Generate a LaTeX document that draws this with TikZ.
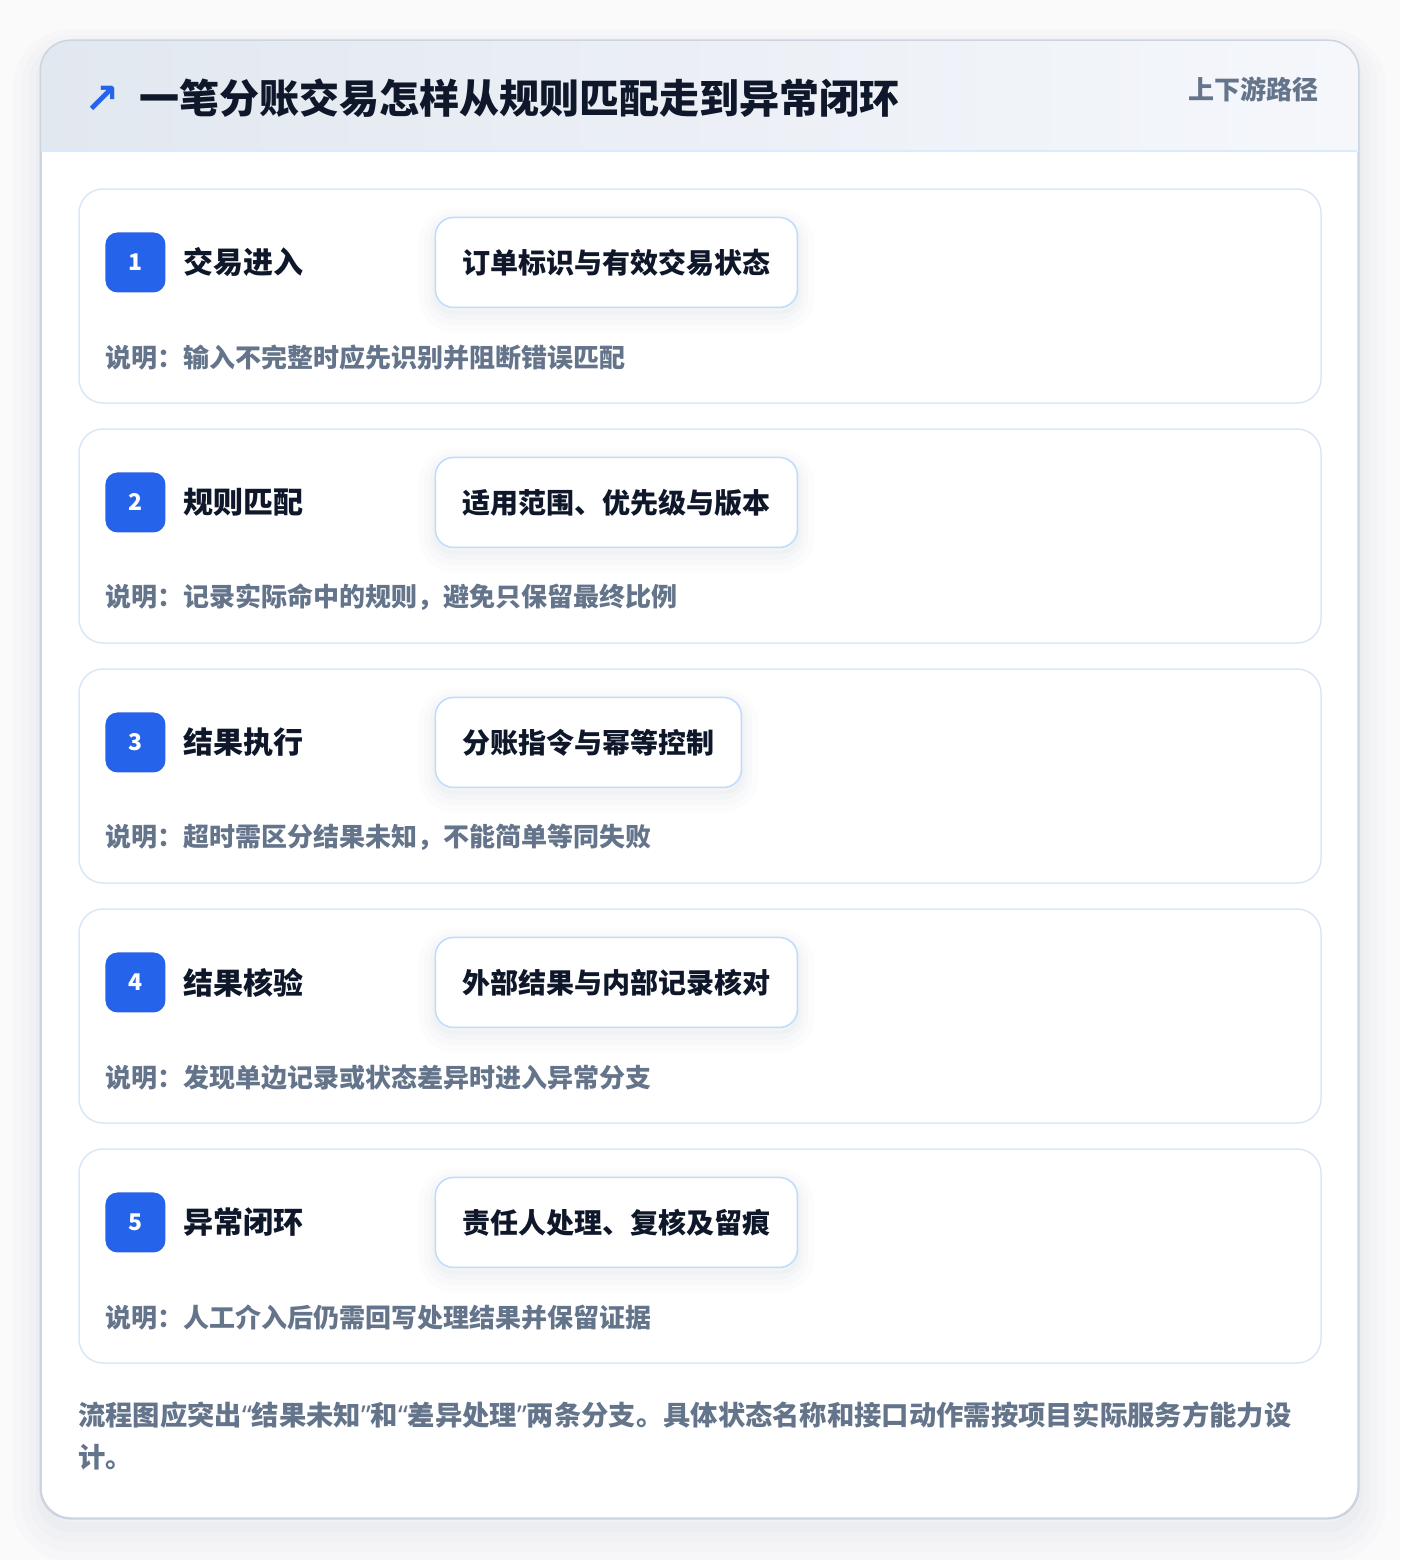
\documentclass[tikz,border=0pt]{standalone}
\usepackage{fontspec}
\setmainfont{Noto Sans CJK SC}
\newfontfamily\symfont{DejaVu Sans}
\newfontfamily\quotefont{Noto Sans}
\usetikzlibrary{positioning}

\definecolor{pagebg}{HTML}{FAFAFB}
\definecolor{panelline}{HTML}{CBD5E1}
\definecolor{headleft}{HTML}{E2E8F0}
\definecolor{headright}{HTML}{F5F7FB}
\definecolor{headrule}{HTML}{DBEAFE}
\definecolor{ink}{HTML}{0F172A}
\definecolor{muted}{HTML}{64748B}
\definecolor{accent}{HTML}{2563EB}
\definecolor{stepline}{HTML}{DBE7F6}
\definecolor{keyline}{HTML}{BFDBFE}
\definecolor{shade}{HTML}{334155}

\newcommand{\oq}{{\quotefont “}}
\newcommand{\cq}{{\quotefont ”}}

\tikzset{
  softhalo/.style n args={3}{preaction={draw=shade, draw opacity=#1, line width=#2,
    transform canvas={yshift=#3}}},
  panel/.style={draw=panelline, line width=1.5pt, fill=white, rounded corners=30pt,
    minimum width=1317pt, minimum height=1477pt, inner sep=0pt,
    softhalo={0.01}{56pt}{-16pt}, softhalo={0.012}{40pt}{-14pt},
    softhalo={0.014}{24pt}{-12pt}, softhalo={0.018}{10pt}{-9pt}},
  stepcard/.style={draw=stepline, line width=1.5pt, fill=white, rounded corners=24pt,
    minimum width=1242pt, minimum height=214pt, inner sep=0pt},
  badge/.style={fill=accent, rounded corners=12pt, minimum size=60pt, inner sep=0pt,
    text=white, font=\fontsize{23}{24}\selectfont\bfseries},
  steptitle/.style={text=ink, inner sep=0pt, font=\fontsize{30}{32}\selectfont\bfseries},
  keybox/.style={draw=keyline, line width=1.5pt, fill=white, rounded corners=18pt,
    minimum height=90pt, inner xsep=27pt, text=ink, font=\fontsize{28}{30}\selectfont\bfseries,
    softhalo={0.012}{34pt}{-8pt}, softhalo={0.016}{22pt}{-7pt},
    softhalo={0.02}{12pt}{-6pt}, softhalo={0.02}{4pt}{-5pt}},
  note/.style={text=muted, inner sep=0pt, font=\fontsize{26}{28}\selectfont\bfseries},
}

\begin{document}
\begin{tikzpicture}[x=1pt, y=-1pt]
  % Page
  \fill[pagebg] (0,0) rectangle (1400,1560);
  \useasboundingbox (0,0) rectangle (1400,1560);

  % Panel and header band
  \node[panel] (panel) at (699.5,779.5) {};
  \begin{scope}
    \clip[rounded corners=30pt] (panel.north west) rectangle (panel.south east);
    \shade[left color=headleft, right color=headright] (41,41) rectangle (1358,151);
  \end{scope}
  \draw[headrule, line width=1.5pt] (41.75,151) -- (1357.25,151);
  \draw[panelline, line width=1.5pt, rounded corners=30pt] (panel.north west) rectangle (panel.south east);

  % Header texts
  \node[text=accent, inner sep=0pt, font=\symfont\bfseries\fontsize{42}{42}\selectfont] (icon) at (102,100) {↗};
  \node[anchor=west, text=ink, inner sep=0pt, font=\fontsize{40}{42}\selectfont\bfseries]
    (title) at (139,98) {一笔分账交易怎样从规则匹配走到异常闭环};
  \node[anchor=east, text=muted, inner sep=0pt, font=\fontsize{26}{28}\selectfont\bfseries]
    (tag) at (1319,89) {上下游路径};

  % Steps
  \foreach \i/\stitle/\skey/\snote in {
      1/{交易进入}/{订单标识与有效交易状态}/{说明：输入不完整时应先识别并阻断错误匹配},
      2/{规则匹配}/{适用范围、优先级与版本}/{说明：记录实际命中的规则，避免只保留最终比例},
      3/{结果执行}/{分账指令与幂等控制}/{说明：超时需区分结果未知，不能简单等同失败},
      4/{结果核验}/{外部结果与内部记录核对}/{说明：发现单边记录或状态差异时进入异常分支},
      5/{异常闭环}/{责任人处理、复核及留痕}/{说明：人工介入后仍需回写处理结果并保留证据}} {
    \node[stepcard] (card\i) at (700,{296+240*(\i-1)}) {};
    \node[badge, below right=44pt and 27pt of card\i.north west, anchor=north west] (badge\i) {\i};
    \node[steptitle, right=18pt of badge\i] (stitle\i) {\stitle};
    \node[keybox, right=269pt of badge\i] (key\i) {\skey};
    \node[note, below=64.5pt of badge\i.south west, anchor=west] (note\i) {\snote};
  }

  % Footer remark
  \node[anchor=west, align=left, text=muted, inner sep=0pt,
    font=\fontsize{27.3}{42}\selectfont\bfseries] (remark) at (78,1436)
    {流程图应突出\oq 结果未知\cq 和\oq 差异处理\cq 两条分支。具体状态名称和接口动作需按项目实际服务方能力设\\计。};
\end{tikzpicture}
\end{document}
